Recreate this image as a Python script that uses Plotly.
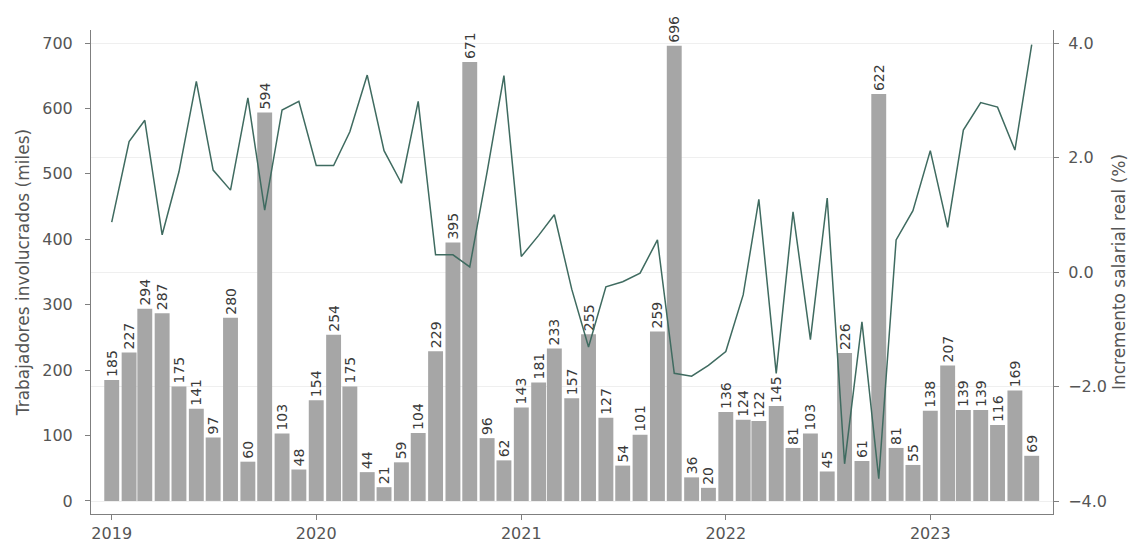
import plotly.graph_objects as go
import pandas as pd

months = pd.date_range("2019-01-01", "2023-07-01", freq="MS").strftime("%Y-%m-%d").tolist()

trabajadores = [
    185, 227, 294, 287, 175, 141, 97, 280, 60, 594, 103, 48,
    154, 254, 175, 44, 21, 59, 104, 229, 395, 671, 96, 62,
    143, 181, 233, 157, 255, 127, 54, 101, 259, 696, 36, 20,
    136, 124, 122, 145, 81, 103, 45, 226, 61, 622, 81, 55,
    138, 207, 139, 139, 116, 169, 69,
]

incremento = [
    0.87, 2.28, 2.65, 0.65, 1.75, 3.33, 1.78, 1.43, 3.04, 1.08, 2.83, 2.98,
    1.86, 1.86, 2.45, 3.44, 2.12, 1.55, 2.98, 0.30, 0.30, 0.09, 1.75, 3.43,
    0.27, 0.64, 1.00, -0.30, -1.31, -0.26, -0.17, -0.02, 0.56, -1.77, -1.82, -1.63,
    -1.39, -0.40, 1.27, -1.77, 1.05, -1.18, 1.29, -3.35, -0.87, -3.61, 0.56, 1.07,
    2.12, 0.78, 2.48, 2.96, 2.88, 2.13, 3.97,
]

year_ticks = ["2019-01-01", "2020-01-01", "2021-01-01", "2022-01-01", "2023-01-01"]
year_labels = ["2019", "2020", "2021", "2022", "2023"]

FONT = "DejaVu Sans"
AX = "#7f7f7f"
TXT = "#555555"

fig = go.Figure()
fig.add_trace(go.Bar(
    x=months, y=trabajadores,
    marker=dict(color="#a6a6a6", line=dict(width=0)),
    text=[str(v) for v in trabajadores],
    textposition="outside", textangle=-90,
    constraintext="none",
    textfont=dict(family=FONT, size=14, color="#3a3a3a"),
    cliponaxis=False,
    name="Trabajadores",
))
fig.add_trace(go.Scatter(
    x=months, y=incremento, yaxis="y2", mode="lines",
    line=dict(color="#3f6b60", width=1.5),
    name="Incremento",
))

fig.update_layout(
    width=1129, height=550,
    margin=dict(l=91, r=76, t=30, b=36, autoexpand=False),
    plot_bgcolor="white", paper_bgcolor="white",
    showlegend=False,
    bargap=0.05,
    font=dict(family=FONT, size=16, color=TXT),
    xaxis=dict(
        type="date",
        range=["2018-11-25", "2023-08-08"],
        tickvals=year_ticks, ticktext=year_labels,
        showline=True, linecolor=AX, linewidth=1,
        ticks="outside", ticklen=5, tickcolor=AX,
        showgrid=False, zeroline=False, automargin=False,
        tickfont=dict(family=FONT, size=16, color=TXT),
    ),
    yaxis=dict(
        range=[-20, 720],
        tickvals=[0, 100, 200, 300, 400, 500, 600, 700],
        showline=True, linecolor=AX, linewidth=1,
        ticks="outside", ticklen=5, tickcolor=AX,
        ticklabelstandoff=9,
        showgrid=False, zeroline=False, automargin=False,
        title=dict(text="Trabajadores involucrados (miles)", font=dict(family=FONT, size=17, color=TXT), standoff=8),
        tickfont=dict(family=FONT, size=16, color=TXT),
    ),
    yaxis2=dict(
        overlaying="y", side="right",
        range=[-4.227, 4.227],
        tickvals=[-4, -2, 0, 2, 4], tickformat=".1f",
        showline=True, linecolor=AX, linewidth=1,
        ticks="outside", ticklen=5, tickcolor=AX,
        ticklabelstandoff=6,
        showgrid=True, gridcolor="#efefef", gridwidth=1,
        zeroline=False, automargin=False,
        title=dict(text="Incremento salarial real (%)", font=dict(family=FONT, size=17, color=TXT), standoff=10),
        tickfont=dict(family=FONT, size=16, color=TXT),
    ),
)

fig.write_html(
    "out.html",
    config={"displayModeBar": False},
    post_script="document.body.style.margin='0';document.body.style.padding='0';",
)
